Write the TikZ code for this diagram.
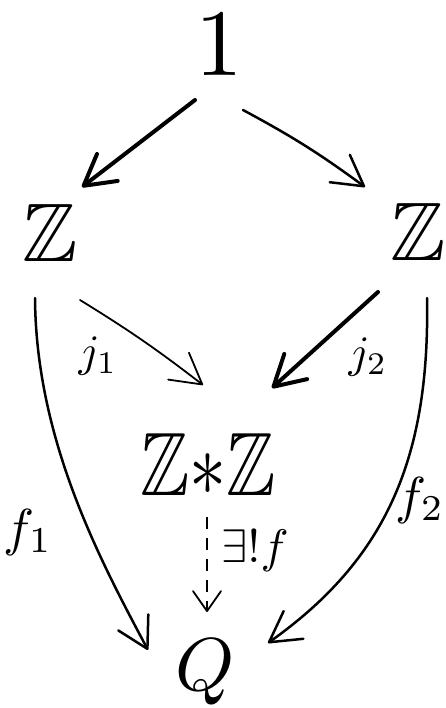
\documentclass[tikz,border=0pt]{standalone}
\usepackage{amssymb}
\usepackage{graphicx}
\usetikzlibrary{arrows.meta}
\begin{document}
\begin{tikzpicture}[x=1pt,y=-1pt,
  lbl/.style={inner sep=0pt, outer sep=0pt},
  arr/.style={line width=2.5pt, line cap=round, line join=round,
    -{Straight Barb[length=30pt,width=34pt,round]}},
  dasharr/.style={line width=1.8pt, dash pattern=on 12pt off 9pt,
    -{Straight Barb[length=20pt,width=28pt,round]}},
]
\useasboundingbox (0,0) rectangle (446,708);
% nodes
\node[lbl] (one) at (219,45) {\scalebox{9.5}{$1$}};
\node[lbl] (zl) at (50,233) {\scalebox{8.3}{$\mathbb{Z}$}};
\node[lbl] (zr) at (418,232) {\scalebox{8.3}{$\mathbb{Z}$}};
\node[lbl] (zz) at (208,464) {\scalebox{7.4}[9]{$\mathbb{Z}{*}\mathbb{Z}$}};
\node[lbl] (q) at (205,672) {\scalebox{7.5}{$Q$}};
% labels
\node[lbl] (j1) at (98,356) {\scalebox{4.5}{$j_1$}};
\node[lbl] (j2) at (368,357) {\scalebox{4.5}{$j_2$}};
\node[lbl] (f1) at (28,532) {\scalebox{5.2}{$f_1$}};
\node[lbl] (f2) at (420,500) {\scalebox{5.2}{$f_2$}};
\node[lbl] (ef) at (255,551) {\scalebox{4.7}{$\exists!f$}};
% connectors
\draw[arr, line width=4pt] ([shift={(-24,55)}]one.center) -- ([shift={(32,-46)}]zl.center);
\draw[arr] ([shift={(24,65)}]one.center) to[bend left=4] ([shift={(-53,-45)}]zr.center);
\draw[arr, line width=1.8pt] ([shift={(30,67)}]zl.center) to[bend left=3] ([shift={(-5,-79)}]zz.center);
\draw[arr, line width=4pt] ([shift={(-40,60)}]zr.center) -- ([shift={(64,-76)}]zz.center);
\draw[arr] ([shift={(-15,65)}]zl.center) .. controls (36,440) and (100,560) .. ([shift={(-57,-22)}]q.center);
\draw[arr] ([shift={(9,66)}]zr.center) .. controls (430,460) and (385,560) .. ([shift={(63,-29)}]q.center);
\draw[dasharr] ([shift={(-1,53)}]zz.center) -- ([shift={(2,-60)}]q.center);
\end{tikzpicture}
\end{document}
